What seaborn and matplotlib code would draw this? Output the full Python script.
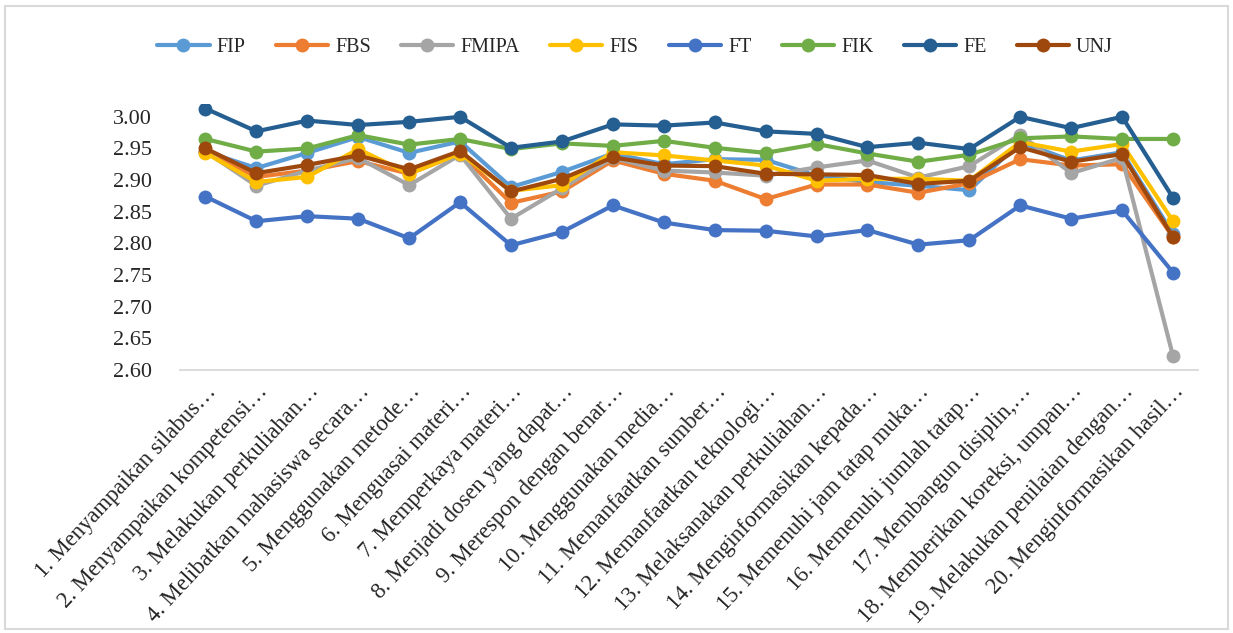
import numpy as np
import pandas as pd
import seaborn as sns
import matplotlib.pyplot as plt
from matplotlib.patches import Rectangle

items = [
    '1. Menyampaikan silabus…', '2. Menyampaikan kompetensi…', '3. Melakukan perkuliahan…',
    '4. Melibatkan mahasiswa secara…', '5. Menggunakan metode…', '6. Menguasai materi…',
    '7. Memperkaya materi…', '8. Menjadi dosen yang dapat…', '9. Merespon dengan benar…',
    '10. Menggunakan media…', '11. Memanfaatkan sumber…', '12. Memanfaatkan teknologi…',
    '13. Melaksanakan perkuliahan…', '14. Menginformasikan kepada…', '15. Memenuhi jam tatap muka…',
    '16. Memenuhi jumlah tatap…', '17. Membangun disiplin,…', '18. Memberikan koreksi, umpan…',
    '19. Melakukan penilaian dengan…', '20. Menginformasikan hasil…',
]

fip = [2.945, 2.919, 2.943, 2.968, 2.943, 2.961, 2.889, 2.913, 2.942, 2.925,
       2.933, 2.932, 2.907, 2.897, 2.891, 2.884, 2.960, 2.931, 2.944, 2.815]
fbs = [2.945, 2.905, 2.915, 2.930, 2.910, 2.942, 2.864, 2.882, 2.931, 2.910,
       2.899, 2.870, 2.893, 2.893, 2.880, 2.895, 2.933, 2.923, 2.925, 2.810]
fmipa = [2.945, 2.891, 2.915, 2.935, 2.892, 2.940, 2.839, 2.887, 2.935, 2.915,
         2.912, 2.907, 2.920, 2.931, 2.904, 2.922, 2.972, 2.911, 2.935, 2.622]
fis = [2.943, 2.897, 2.905, 2.949, 2.910, 2.942, 2.883, 2.892, 2.944, 2.939,
       2.931, 2.923, 2.899, 2.902, 2.902, 2.899, 2.960, 2.945, 2.957, 2.835]
ft = [2.874, 2.835, 2.843, 2.839, 2.808, 2.865, 2.797, 2.818, 2.860, 2.833,
      2.821, 2.820, 2.811, 2.821, 2.798, 2.805, 2.860, 2.839, 2.852, 2.754]
fik = [2.965, 2.945, 2.950, 2.971, 2.956, 2.965, 2.949, 2.958, 2.954, 2.962,
       2.951, 2.943, 2.957, 2.942, 2.929, 2.940, 2.966, 2.969, 2.965, 2.965]
fe = [3.013, 2.977, 2.994, 2.987, 2.992, 3.000, 2.951, 2.961, 2.988, 2.986,
      2.991, 2.977, 2.973, 2.952, 2.959, 2.949, 3.000, 2.982, 3.000, 2.872]
unj = [2.950, 2.911, 2.924, 2.939, 2.917, 2.946, 2.882, 2.902, 2.936, 2.923,
       2.922, 2.910, 2.909, 2.908, 2.894, 2.899, 2.952, 2.929, 2.941, 2.810]

series = {'FIP': fip, 'FBS': fbs, 'FMIPA': fmipa, 'FIS': fis,
          'FT': ft, 'FIK': fik, 'FE': fe, 'UNJ': unj}
colors = ['#5B9BD5', '#ED7D31', '#A5A5A5', '#FFC000', '#4472C4', '#70AD47', '#255E91', '#9E480E']

rows = []
for name, vals in series.items():
    for i, v in enumerate(vals):
        rows.append({'idx': i, 'Skor': v, 'Fakultas': name})
df = pd.DataFrame(rows)

sns.set_style('white')
plt.rcParams['font.family'] = ['Liberation Serif', 'DejaVu Serif']

fig = plt.figure(figsize=(12.33, 6.33), dpi=100)
ax = fig.add_axes([0.146, 0.4155, 0.826, 0.42])

sns.lineplot(data=df, x='idx', y='Skor', hue='Fakultas', palette=colors,
             marker='o', markersize=10, markeredgewidth=0, linewidth=3,
             sort=False, ax=ax)

ax.set_xlim(-0.5, len(items) - 0.5)
ax.set_ylim(2.60, 3.02)
yt = np.arange(2.60, 3.001, 0.05)
ax.set_yticks(yt)
ax.set_yticklabels([f'{t:.2f}' for t in yt], fontsize=16)
ax.set_xticks(range(len(items)))
ax.set_xticklabels(items, rotation=47, ha='right', rotation_mode='anchor', fontsize=16.3)
ax.tick_params(axis='y', length=0, pad=20)
ax.tick_params(axis='x', length=0, pad=8)
ax.set_xlabel('')
ax.set_ylabel('')
for s in ['top', 'right', 'left']:
    ax.spines[s].set_visible(False)
ax.spines['bottom'].set_color('#D9D9D9')
ax.spines['bottom'].set_linewidth(1.3)

handles, labels = ax.get_legend_handles_labels()
ax.legend(handles, labels, loc='center', bbox_to_anchor=(0.515, 0.925),
          bbox_transform=fig.transFigure, ncol=8, frameon=False, fontsize=14.5,
          handlelength=2.6, columnspacing=1.5, handletextpad=0.35)

fig.patches.append(Rectangle((0.004, 0.006), 0.992, 0.985, transform=fig.transFigure,
                             fill=False, edgecolor='#D9D9D9', linewidth=1.5))

fig.savefig('out.png', dpi=100)
